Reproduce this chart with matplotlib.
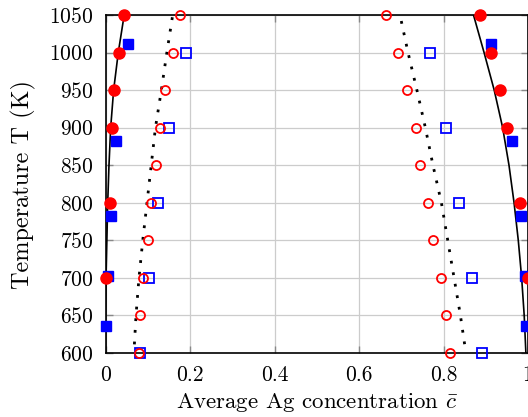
import matplotlib
matplotlib.use("Agg")
import matplotlib.pyplot as plt

plt.rcParams['font.family'] = 'serif'
plt.rcParams['font.serif'] = ['cmr10']
plt.rcParams['mathtext.fontset'] = 'cm'
plt.rcParams['axes.formatter.use_mathtext'] = True

# solid boundaries (left / right)
T_solid = [1050, 1000, 950, 900, 850, 800, 750, 700, 650, 600]
c_solid_left = [0.044, 0.030, 0.019, 0.012, 0.008, 0.005, 0.003, 0.001, 0.0, 0.0]
c_solid_right = [0.871, 0.896, 0.920, 0.940, 0.955, 0.967, 0.977, 0.985, 0.991, 0.995]

# dotted boundaries
T_dot_left = [1047, 1000, 950, 900, 850, 800, 750, 700, 650, 600]
c_dot_left = [0.158, 0.145, 0.132, 0.118, 0.108, 0.098, 0.088, 0.079, 0.072, 0.067]
T_dot_right = [1042, 1000, 950, 900, 850, 800, 750, 700, 650, 600]
c_dot_right = [0.700, 0.716, 0.737, 0.757, 0.775, 0.795, 0.810, 0.825, 0.840, 0.853]

# filled red circles
T_red_filled = [1050, 1000, 950, 900, 800, 700]
c_red_filled_left = [0.043, 0.032, 0.020, 0.014, 0.010, 0.0]
c_red_filled_right = [0.886, 0.912, 0.934, 0.950, 0.981, 1.0]

# filled blue squares
T_blue_filled = [1011, 882, 783, 702, 636]
c_blue_filled_left = [0.054, 0.024, 0.012, 0.006, 0.002]
c_blue_filled_right = [0.913, 0.961, 0.983, 0.993, 0.995]

# open red circles
T_red_open = [1050, 1000, 950, 900, 850, 800, 750, 700, 650, 600]
c_red_open_left = [0.175, 0.160, 0.141, 0.129, 0.119, 0.107, 0.100, 0.089, 0.081, 0.080]
c_red_open_right = [0.664, 0.693, 0.714, 0.735, 0.744, 0.764, 0.775, 0.795, 0.805, 0.815]

# open blue squares
T_blue_open = [1000, 900, 800, 700, 600]
c_blue_open_left = [0.190, 0.151, 0.125, 0.102, 0.081]
c_blue_open_right = [0.767, 0.805, 0.837, 0.868, 0.892]

xticks = [0, 0.2, 0.4, 0.6, 0.8, 1]
xticklabels = ['0', '0.2', '0.4', '0.6', '0.8', '1']
yticks = [600, 650, 700, 750, 800, 850, 900, 950, 1000, 1050]

fig = plt.figure(figsize=(5.28, 4.17), dpi=100)
ax = fig.add_axes([0.2, 0.1535, 0.8, 0.8105])

ax.plot(c_solid_left, T_solid, color='black', lw=1.2, zorder=3)
ax.plot(c_solid_right, T_solid, color='black', lw=1.2, zorder=3)
ax.plot(c_dot_left, T_dot_left, color='black', lw=2.0, ls=(0, (1, 3.2)), zorder=3)
ax.plot(c_dot_right, T_dot_right, color='black', lw=2.0, ls=(0, (1, 3.2)), zorder=3)

for cs in (c_blue_filled_left, c_blue_filled_right):
    ax.plot(cs, T_blue_filled, ls='none', marker='s', ms=7.5, color='blue',
            mec='blue', clip_on=False, zorder=4)
for cs in (c_blue_open_left, c_blue_open_right):
    ax.plot(cs, T_blue_open, ls='none', marker='s', ms=7.5, mfc='none',
            mec='blue', mew=1.3, clip_on=False, zorder=4)
for cs in (c_red_filled_left, c_red_filled_right):
    ax.plot(cs, T_red_filled, ls='none', marker='o', ms=8, color='red',
            clip_on=False, zorder=5)
for cs in (c_red_open_left, c_red_open_right):
    ax.plot(cs, T_red_open, ls='none', marker='o', ms=6.5, mfc='none',
            mec='red', mew=1.3, clip_on=False, zorder=5)

ax.set_xlim(0, 1)
ax.set_ylim(600, 1050)
ax.set_xticks(xticks)
ax.set_xticklabels(xticklabels)
ax.set_yticks(yticks)
ax.grid(True, color='#cccccc', lw=0.9)
ax.set_axisbelow(True)
ax.tick_params(direction='in', length=5, width=1, color='#888888',
               top=True, right=True, labelsize=15.5, pad=9)
for s in ax.spines.values():
    s.set_linewidth(1.2)

ax.set_xlabel(r'Average Ag concentration $\bar{c}$', fontsize=16.5, labelpad=4)
ax.set_ylabel('Temperature T (K)', fontsize=17.5, labelpad=9)

fig.savefig('out.png', dpi=100)
